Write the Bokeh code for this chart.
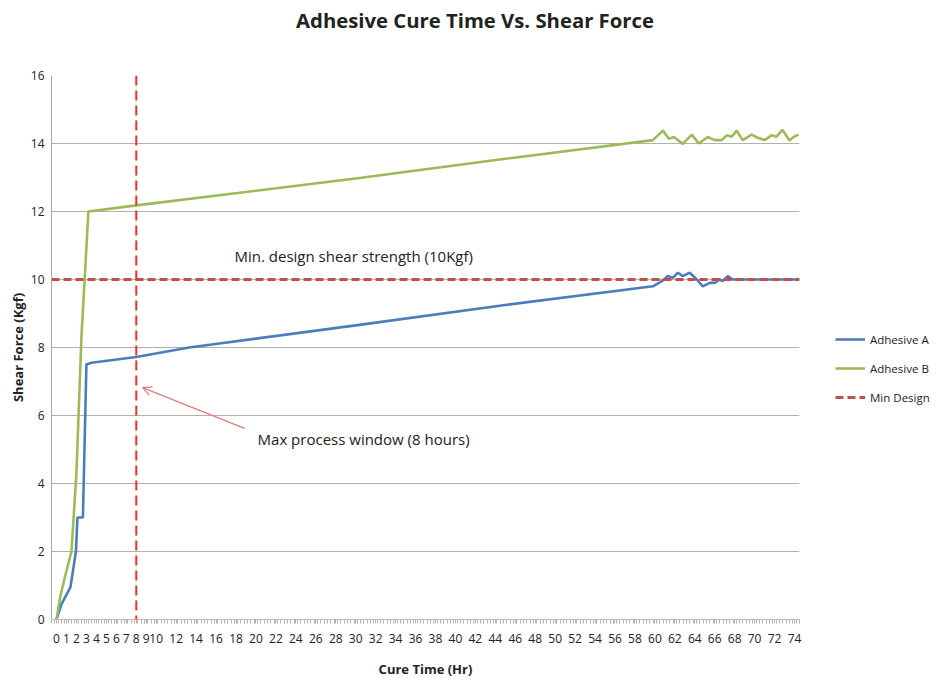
from bokeh.plotting import figure
from bokeh.models import Span, Label, Arrow, OpenHead, Legend, LegendItem, FixedTicker, Div
from bokeh.layouts import column
from bokeh.embed import file_html
from bokeh.resources import INLINE
import numpy as np

# ---------------- data ----------------
adhesive_a_x = [0, 0.5, 1.4, 1.95, 2.1, 2.65, 3.0, 3.5, 8, 13.3, 30, 45, 59.8,
                60.7, 61.3, 61.8, 62.3, 62.8, 63.5, 64.2, 64.8, 65.5, 66.0,
                66.5, 66.8, 67.3, 67.8, 74.5]
adhesive_a_y = [0, 0.45, 0.95, 2.0, 3.0, 3.0, 7.5, 7.55, 7.72, 8.0, 8.65, 9.25, 9.8,
                9.95, 10.1, 10.05, 10.2, 10.1, 10.2, 10.0, 9.8, 9.9, 9.9,
                10.0, 9.95, 10.1, 10.0, 10.0]

adhesive_b_x = [0, 0.4, 0.8, 1.5, 2.0, 2.5, 3.2, 8, 30, 45, 59.8,
                60.8, 61.4, 61.9, 62.8, 63.7, 64.4, 65.3, 66.0, 66.7, 67.2, 67.7,
                68.2, 68.8, 69.7, 70.3, 71.0, 71.7, 72.2, 72.8, 73.5, 73.9, 74.4]
adhesive_b_y = [0, 0.7, 1.2, 2.0, 4.3, 8.3, 12.0, 12.18, 12.97, 13.55, 14.1,
                14.38, 14.14, 14.19, 13.99, 14.26, 14.0, 14.19, 14.1, 14.1, 14.24, 14.2,
                14.38, 14.1, 14.26, 14.17, 14.1, 14.24, 14.2, 14.4, 14.09, 14.19, 14.26]

min_design_x = [-0.5, 74.5]
min_design_value = 10
max_process_window = 8

x_tick_values = list(range(0, 10)) + list(range(10, 75, 2))
y_tick_values = [0, 2, 4, 6, 8, 10, 12, 14, 16]

title_text = "Adhesive Cure Time Vs. Shear Force"
x_label = "Cure Time (Hr)"
y_label = "Shear Force (Kgf)"
note_min = "Min. design shear strength (10Kgf)"
note_max = "Max process window (8 hours)"

# ---------------- style ----------------
FONT = "Open Sans"
BLUE = "#4a7ebb"
GREEN = "#9bbb59"
RED_H = "#c0504d"
RED_V = "#ff2b2b"

title_div = Div(
    text=('<div style="width:924px;text-align:center;padding-left:16px;padding-top:3px;'
          'box-sizing:border-box;font-family:\'Open Sans\';font-weight:bold;font-size:20.3px;'
          'line-height:24px;color:#222222;margin:0;">' + title_text + '</div>'),
    width=924, height=41)

p = figure(frame_width=748, frame_height=544, output_backend="svg", toolbar_location=None,
           title=None, x_range=(-0.5, 74.5), y_range=(0, 16),
           min_border_left=51, min_border_right=100, min_border_top=24,
           min_border_bottom=50)
p.outline_line_color = None
p.background_fill_color = "white"
p.border_fill_color = "white"

minor = list(np.arange(-0.5, 74.6, 1.0 / 3.0))
p.xaxis.ticker = FixedTicker(ticks=x_tick_values, minor_ticks=minor)
p.yaxis.ticker = FixedTicker(ticks=y_tick_values)
p.xgrid.visible = False
p.ygrid.grid_line_color = "#b8afab"
p.ygrid.grid_line_width = 1

for ax in (p.xaxis, p.yaxis):
    ax.major_label_text_font = FONT
    ax.major_label_text_font_size = "12px"
    ax.major_label_text_color = "#222222"
    ax.axis_label_text_font = FONT
    ax.axis_label_text_font_size = "13px"
    ax.axis_label_text_font_style = "bold"
    ax.axis_label_text_color = "#222222"

p.yaxis.axis_label = y_label
p.yaxis.axis_label_standoff = 1
p.yaxis.axis_line_color = "#a8a8a8"
p.yaxis.major_tick_line_color = None
p.yaxis.minor_tick_line_color = None
p.yaxis.major_tick_in = 0
p.yaxis.major_tick_out = 0
p.yaxis.minor_tick_in = 0
p.yaxis.minor_tick_out = 0
p.yaxis.major_label_standoff = 7

p.xaxis.axis_label = x_label
p.xaxis.axis_label_standoff = 14
p.xaxis.axis_line_color = "#c4b8b8"
p.xaxis.major_tick_line_color = "#c0b0b0"
p.xaxis.minor_tick_line_color = "#c0b0b0"
p.xaxis.major_tick_in = 0
p.xaxis.major_tick_out = 4
p.xaxis.minor_tick_in = 0
p.xaxis.minor_tick_out = 4
p.xaxis.major_label_standoff = 10

la = p.line(adhesive_a_x, adhesive_a_y, line_color=BLUE, line_width=2.6)
lb = p.line(adhesive_b_x, adhesive_b_y, line_color=GREEN, line_width=2.6)
lm = p.line(min_design_x, [min_design_value] * len(min_design_x), line_color=RED_H,
            line_width=3, line_dash="8 4")

vspan = Span(location=max_process_window, dimension="height", line_color=RED_V,
             line_width=2, line_dash="10 5")
p.add_layout(vspan)

legend = Legend(items=[LegendItem(label="Adhesive A", renderers=[la]),
                       LegendItem(label="Adhesive B", renderers=[lb]),
                       LegendItem(label="Min Design", renderers=[lm])],
                location="center_left", orientation="vertical")
legend.title = " "
legend.title_text_font_size = "12px"
legend.title_standoff = 28
legend.label_text_font = FONT
legend.label_text_font_size = "11.5px"
legend.label_text_color = "#222222"
legend.glyph_width = 30
legend.glyph_height = 20
legend.label_height = 20
legend.label_standoff = 5
legend.spacing = 9
legend.padding = 0
legend.margin = 36
legend.border_line_color = None
legend.background_fill_alpha = 0
p.add_layout(legend, "right")

# annotations
p.add_layout(Label(x=17.85, y=10.68, text=note_min, text_font=FONT,
                   text_font_size="15px", text_color="#222222",
                   text_baseline="middle", text_align="left"))
p.add_layout(Label(x=20.16, y=5.32, text=note_max, text_font=FONT,
                   text_font_size="15px", text_color="#222222",
                   text_baseline="middle", text_align="left"))
p.add_layout(Arrow(x_start=18.86, y_start=5.62, x_end=8.63, y_end=6.82,
                   line_color="#e07a7a", line_width=1.2,
                   end=OpenHead(size=9, line_color="#e07a7a", line_width=1.2)))

layout = column(title_div, p, spacing=0)
open("out.html", "w").write(file_html(layout, INLINE))
